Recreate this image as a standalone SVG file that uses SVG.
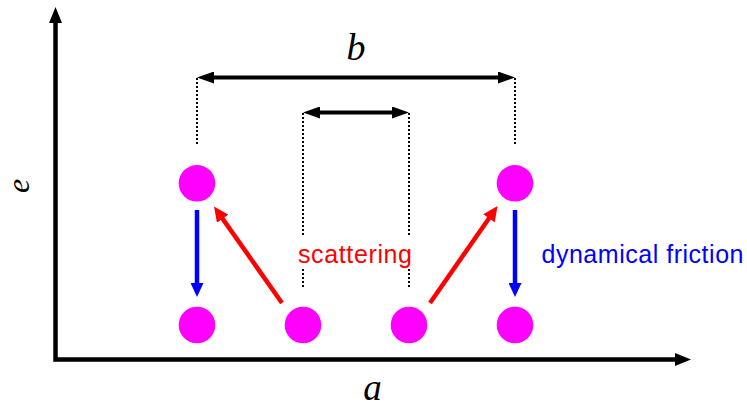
<svg xmlns="http://www.w3.org/2000/svg" width="747" height="408" viewBox="0 0 747 408">
<defs>
<style>
.ax{fill:none;stroke:#000;stroke-width:4.5;stroke-linejoin:miter}
.dim{stroke:#000;stroke-width:4}
.dot{stroke:#000;stroke-width:2;stroke-dasharray:2 2}
.fr{stroke:#0000FF;stroke-width:4.5}
.sc{stroke:#FF0000;stroke-width:4.5}
.p{fill:#FF00FF}
.math{font-family:"Liberation Serif","Times New Roman",serif;font-style:italic;font-size:38px;fill:#000}
.lbl{font-family:"Liberation Sans",Arial,sans-serif;font-size:25px}
</style>
<marker id="mAx" markerUnits="userSpaceOnUse" markerWidth="16" markerHeight="13" refX="2" refY="6.5" orient="auto-start-reverse"><path d="M0,0 L16,6.5 L0,13 z" fill="#000"/></marker>
<marker id="mDim" markerUnits="userSpaceOnUse" markerWidth="17" markerHeight="12" refX="2" refY="6" orient="auto-start-reverse"><path d="M0,0 L17,6 L0,12 z" fill="#000"/></marker>
<marker id="mBlue" markerUnits="userSpaceOnUse" markerWidth="14" markerHeight="13" refX="2" refY="6.5" orient="auto"><path d="M0,0 L14,6.5 L0,13 z" fill="#0000FF"/></marker>
<marker id="mRed" markerUnits="userSpaceOnUse" markerWidth="15" markerHeight="14" refX="2" refY="7" orient="auto"><path d="M0,0 L15,7 L0,14 z" fill="#FF0000"/></marker>
</defs>
<rect width="747" height="408" fill="#fff"/>
<g id="axes">
<path class="ax" d="M55.5,21 L55.5,359.5 L677,359.5" marker-start="url(#mAx)" marker-end="url(#mAx)"/>
<text class="math" x="372.5" y="400" text-anchor="middle" style="font-size:37px">a</text>
<text class="math" transform="translate(28.5,186) rotate(-90)" text-anchor="middle" style="font-size:32px">e</text>
</g>
<g id="connectors">
<line class="dot" x1="197" y1="78" x2="197" y2="146"/>
<line class="dot" x1="515" y1="78" x2="515" y2="146"/>
<line class="dot" x1="303" y1="113" x2="303" y2="235"/>
<line class="dot" x1="303" y1="269" x2="303" y2="287"/>
<line class="dot" x1="409" y1="113" x2="409" y2="235"/>
<line class="dot" x1="409" y1="269" x2="409" y2="287"/>
<line class="dim" x1="212" y1="77.5" x2="500" y2="77.5" marker-start="url(#mDim)" marker-end="url(#mDim)"/>
<line class="dim" x1="318" y1="112.5" x2="394" y2="112.5" marker-start="url(#mDim)" marker-end="url(#mDim)"/>
<line class="fr" x1="197" y1="210" x2="197" y2="285" marker-end="url(#mBlue)"/>
<line class="fr" x1="515" y1="210" x2="515" y2="285" marker-end="url(#mBlue)"/>
<line class="sc" x1="282" y1="303" x2="221.5" y2="217.1" marker-end="url(#mRed)"/>
<line class="sc" x1="430" y1="303" x2="490.1" y2="216.7" marker-end="url(#mRed)"/>
</g>
<g id="label-b"><text class="math" x="356" y="60" text-anchor="middle">b</text></g>
<g id="p-top-left"><circle class="p" cx="197" cy="183.3" r="18.3"/></g>
<g id="p-top-right"><circle class="p" cx="515" cy="183.3" r="18.3"/></g>
<g id="p-bot-1"><circle class="p" cx="197" cy="325" r="18.3"/></g>
<g id="p-bot-2"><circle class="p" cx="303" cy="325" r="18.3"/></g>
<g id="p-bot-3"><circle class="p" cx="409" cy="325" r="18.3"/></g>
<g id="p-bot-4"><circle class="p" cx="515" cy="325" r="18.3"/></g>
<g id="label-scattering"><text class="lbl" x="298" y="263" fill="#FF0000" textLength="114" lengthAdjust="spacing">scattering</text></g>
<g id="label-friction"><text class="lbl" x="541.5" y="263" fill="#0000FF" textLength="202" lengthAdjust="spacing">dynamical friction</text></g>
</svg>
